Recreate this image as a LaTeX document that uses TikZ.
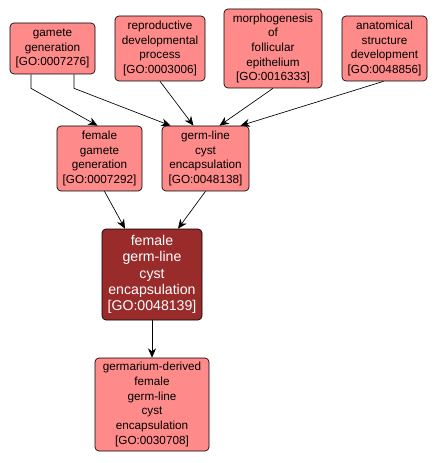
\documentclass[tikz,border=0pt]{standalone}
\usepackage{fontspec}
\setmainfont{Liberation Sans}
\usetikzlibrary{arrows.meta}
\definecolor{termpink}{HTML}{FF8A8A}
\definecolor{termdark}{HTML}{9A2B2B}
\tikzset{
  T/.style={draw=black, fill=termpink, rounded corners=3pt, align=center,
    font=\fontsize{8.8}{11}\selectfont, inner sep=0pt, line width=0.5pt},
  F/.style={T, fill=termdark, text=white},
  a/.style={-{Stealth[length=7pt, width=6pt]}, line width=0.5pt},
}
\begin{document}
\begin{tikzpicture}[x=0.75pt, y=-0.75pt]
\useasboundingbox[fill=white] (0,0) rectangle (438,463);

% top row
\node[T, minimum width=85*0.75pt, minimum height=51*0.75pt] at (52.5,48.5) (gamgen)
  {gamete\\generation\\{[GO:0007276]}};
\node[T, minimum width=90*0.75pt, minimum height=65*0.75pt] at (160,48.5) (repdev)
  {reproductive\\developmental\\process\\{[GO:0003006]}};
\node[T, minimum width=98*0.75pt, minimum height=79*0.75pt] at (273,48.5) (follepi)
  {morphogenesis\\of\\follicular\\epithelium\\{[GO:0016333]}};
\node[T, minimum width=85*0.75pt, minimum height=65*0.75pt] at (384.5,48.5) (anatdev)
  {anatomical\\structure\\development\\{[GO:0048856]}};

% middle row
\node[T, minimum width=85*0.75pt, minimum height=65*0.75pt] at (99.5,158.5) (femgam)
  {female\\gamete\\generation\\{[GO:0007292]}};
\node[T, minimum width=87*0.75pt, minimum height=65*0.75pt] at (205.5,158.5) (cystenc)
  {germ-line\\cyst\\encapsulation\\{[GO:0048138]}};

% focus term
\node[F, minimum width=100*0.75pt, minimum height=91*0.75pt,
      font=\fontsize{10.6}{12.2}\selectfont] at (152,274.5) (femcyst)
  {female\\germ-line\\cyst\\encapsulation\\{[GO:0048139]}};

% child term
\node[T, minimum width=114*0.75pt, minimum height=93*0.75pt] at (152,404.5) (germcyst)
  {germarium-derived\\female\\germ-line\\cyst\\encapsulation\\{[GO:0030708]}};

% connectors
\draw[a] ([xshift=-21.5*0.75pt]gamgen.south) -- ++(0,14) -- ([xshift=-2*0.75pt]femgam.north);
\draw[a] ([xshift=21.5*0.75pt]gamgen.south) -- ++(0,14) -- ([xshift=-35*0.75pt]cystenc.north);
\draw[a] (repdev.south) -- ([xshift=-12*0.75pt]cystenc.north);
\draw[a] (follepi.south) -- ([xshift=14*0.75pt]cystenc.north);
\draw[a] ([xshift=-1*0.75pt]anatdev.south) -- ([xshift=35*0.75pt]cystenc.north);
\draw[a] ([xshift=5*0.75pt]femgam.south) -- ([xshift=-27*0.75pt]femcyst.north);
\draw[a] (cystenc.south) -- ([xshift=26*0.75pt]femcyst.north);
\draw[a] (femcyst) -- (germcyst);

\end{tikzpicture}
\end{document}
